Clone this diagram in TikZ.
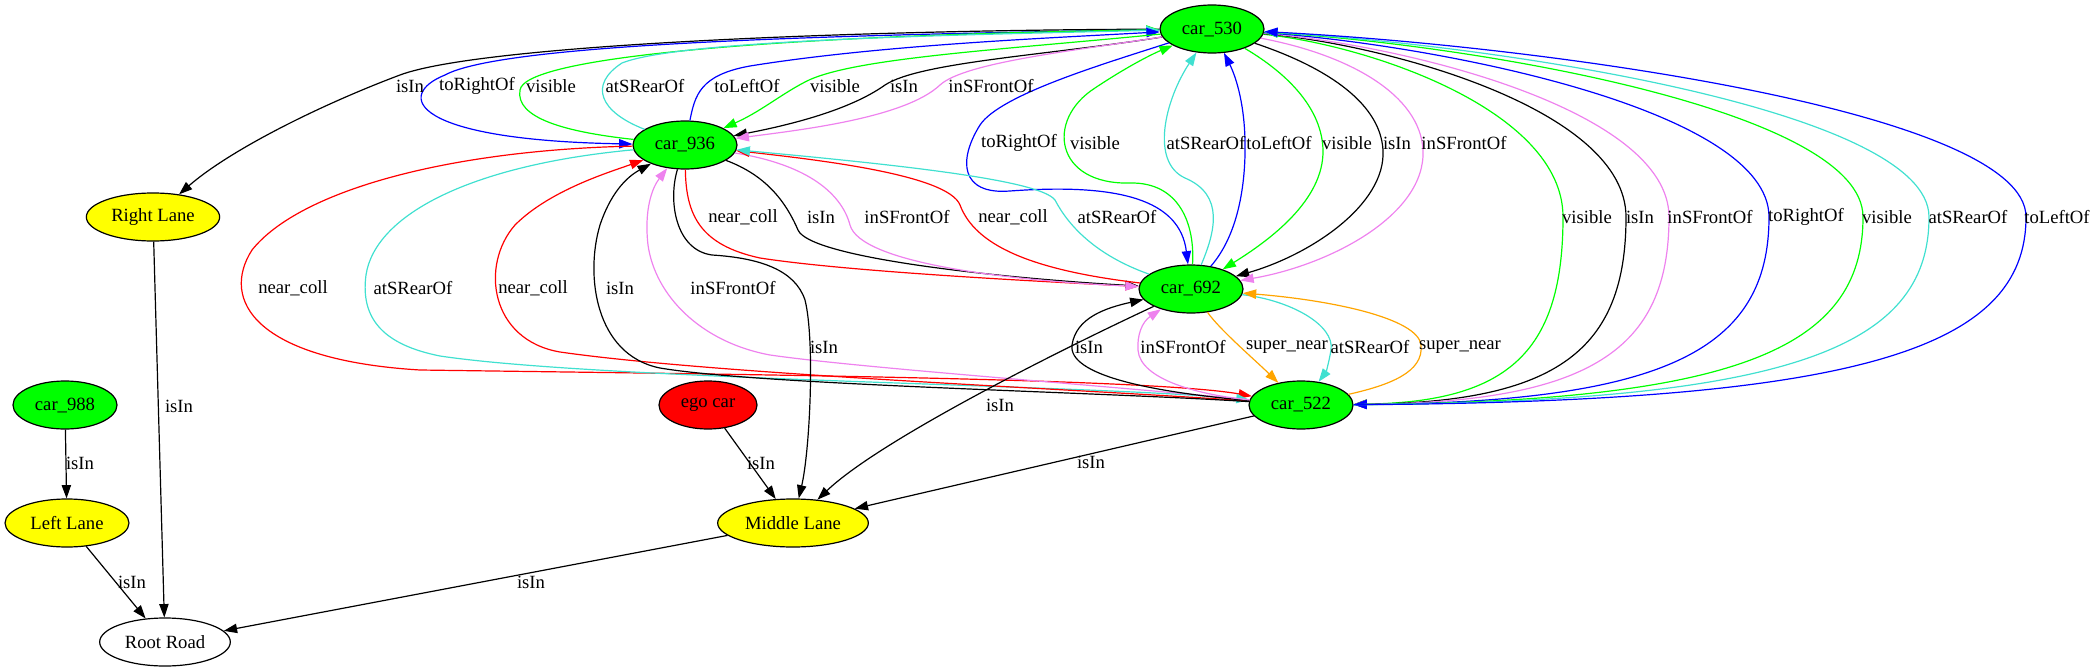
\documentclass[tikz,border=0pt]{standalone}
\usepackage{fontspec}
\setmainfont{Liberation Serif}
\usetikzlibrary{arrows.meta}
\usetikzlibrary{shapes.geometric}
\definecolor{gvgreen}{HTML}{00FF00}
\definecolor{gvblue}{HTML}{0000FF}
\definecolor{gvred}{HTML}{FF0000}
\definecolor{gvturq}{HTML}{40E0D0}
\definecolor{gvviolet}{HTML}{EE82EE}
\definecolor{gvorange}{HTML}{FFA500}
\definecolor{gvyellow}{HTML}{FFFF00}

\begin{document}
\begin{tikzpicture}[x=0.75pt,y=-0.75pt,->,>={Triangle[length=10pt,width=7pt]},line width=0.9pt,
    font=\fontsize{14}{17}\selectfont,
    car node/.style={ellipse,draw,fill=gvgreen,inner sep=0pt,minimum width=78pt,minimum height=36pt},
    lane node/.style={ellipse,draw,fill=gvyellow,inner sep=0pt,minimum height=36pt},
    rel label/.style={inner sep=0pt}]
  \useasboundingbox (0,0) rectangle (2095,667);
  % nodes
  \node[car node] (c530) at (1212,29) {car\_530};
  \node[car node] (c936) at (685,145) {car\_936};
  \node[car node] (c692) at (1191,289) {car\_692};
  \node[car node] (c522) at (1301,405) {car\_522};
  \node[car node] (c988) at (65,405) {car\_988};
  \node[ellipse,draw,fill=gvred,inner sep=0pt,minimum width=73.5pt,minimum height=36pt] (ego) at (708,405) {ego car};
  \node[lane node,minimum width=100pt] (rl) at (153,217) {Right Lane};
  \node[lane node,minimum width=93pt] (lft) at (67,523) {Left Lane};
  \node[lane node,minimum width=113pt] (ml) at (793,523) {Middle Lane};
  \node[ellipse,draw,inner sep=0pt,minimum width=98pt,minimum height=36pt] (rr) at (165,642) {Root Road};
  % car_530 and car_936
  \draw (c530) .. controls (850,30) and (480,45) .. (400,75) .. controls (320,105) and (230,150) .. (rl);
  \draw[gvblue] (c530) .. controls (800,35) and (500,45) .. (445,75) .. controls (395,95) and (410,140) .. (c936);
  \draw[gvgreen] (c936) .. controls (565,132) and (515,118) .. (520,90) .. controls (525,55) and (800,35) .. (c530);
  \draw[gvturq] (c936) .. controls (600,112) and (588,85) .. (622,63) .. controls (680,40) and (950,35) .. (c530);
  \draw[gvblue] (c936) .. controls (695,95) and (700,75) .. (750,66) .. controls (880,45) and (1050,38) .. (c530);
  \draw[gvgreen] (c530) .. controls (1000,50) and (850,58) .. (805,82) .. controls (780,95) and (760,112) .. (c936);
  \draw (c530) .. controls (1050,55) and (920,62) .. (885,85) .. controls (850,110) and (790,125) .. (c936);
  \draw[gvviolet] (c530) .. controls (1080,50) and (965,62) .. (940,85) .. controls (905,118) and (800,130) .. (c936);
  % car_530 and car_692
  \draw[gvblue] (c530) .. controls (1100,65) and (1000,95) .. (980,125) .. controls (958,160) and (960,195) .. (1010,191) .. controls (1120,183) and (1180,200) .. (c692);
  \draw[gvgreen] (c692) .. controls (1195,225) and (1180,182) .. (1130,183) .. controls (1055,185) and (1045,120) .. (1095,88) .. controls (1125,68) and (1150,55) .. (c530);
  \draw[gvturq] (c692) .. controls (1215,232) and (1225,195) .. (1185,178) .. controls (1150,162) and (1165,100) .. (c530);
  \draw[gvblue] (c692) .. controls (1238,235) and (1246,185) .. (1245,140) .. controls (1244,100) and (1235,75) .. (c530);
  \draw[gvgreen] (c530) .. controls (1290,75) and (1322,110) .. (1323,150) .. controls (1324,200) and (1270,240) .. (c692);
  \draw (c530) .. controls (1320,65) and (1380,100) .. (1383,150) .. controls (1386,205) and (1310,255) .. (c692);
  \draw[gvviolet] (c530) .. controls (1350,55) and (1420,95) .. (1423,150) .. controls (1426,215) and (1330,265) .. (c692);
  % car_530 and car_522
  \draw[gvgreen] (c530) .. controls (1368,45) and (1563,110) .. (1563,217) .. controls (1563,350) and (1510,402) .. (c522);
  \draw (c530) .. controls (1390,45) and (1626,110) .. (1626,217) .. controls (1626,350) and (1557,402) .. (c522);
  \draw[gvviolet] (c530) .. controls (1405,45) and (1669,110) .. (1669,217) .. controls (1669,350) and (1590,402) .. (c522);
  \draw[gvblue] (c530) .. controls (1440,45) and (1769,110) .. (1769,217) .. controls (1769,350) and (1665,402) .. (c522);
  \draw[gvgreen] (c522) .. controls (1735,402) and (1863,350) .. (1863,217) .. controls (1863,110) and (1473,45) .. (c530);
  \draw[gvturq] (c522) .. controls (1785,402) and (1929,350) .. (1929,217) .. controls (1929,110) and (1496,45) .. (c530);
  \draw[gvblue] (c522) .. controls (1857,402) and (2026,350) .. (2026,217) .. controls (2026,110) and (1530,45) .. (c530);
  % car_936 and car_692
  \draw[gvred] (c936) .. controls (686,215) and (700,245) .. (760,258) .. controls (850,272) and (1050,282) .. (c692);
  \draw (c936) .. controls (765,175) and (785,200) .. (798,230) .. controls (810,258) and (1000,278) .. (c692);
  \draw[gvviolet] (c936) .. controls (810,165) and (842,195) .. (850,225) .. controls (860,262) and (1000,280) .. (c692);
  \draw[gvred] (c692) .. controls (1030,270) and (975,245) .. (960,205) .. controls (948,175) and (820,160) .. (c936);
  \draw[gvturq] (c692) .. controls (1095,255) and (1068,225) .. (1055,200) .. controls (1040,180) and (900,165) .. (c936);
  % car_936 and car_522
  \draw[gvred] (c936) .. controls (450,150) and (300,190) .. (252,250) .. controls (220,300) and (255,360) .. (420,370) .. controls (700,374) and (1150,378) .. (c522);
  \draw[gvturq] (c936) .. controls (470,165) and (375,215) .. (366,275) .. controls (360,320) and (385,345) .. (440,356) .. controls (600,380) and (1100,385) .. (c522);
  \draw[gvred] (c522) .. controls (1100,390) and (720,375) .. (560,352) .. controls (490,340) and (480,265) .. (515,225) .. controls (550,190) and (610,172) .. (c936);
  \draw (c522) .. controls (1100,392) and (760,385) .. (660,368) .. controls (595,355) and (585,275) .. (600,225) .. controls (610,195) and (625,178) .. (c936);
  \draw[gvviolet] (c522) .. controls (1100,385) and (860,368) .. (770,355) .. controls (700,342) and (655,295) .. (648,245) .. controls (644,210) and (652,188) .. (c936);
  % car_692 and car_522
  \draw (c522) .. controls (1150,392) and (1068,375) .. (1072,345) .. controls (1076,318) and (1105,308) .. (c692);
  \draw[gvviolet] (c522) .. controls (1200,395) and (1140,380) .. (1138,350) .. controls (1137,335) and (1142,322) .. (c692);
  \draw[gvorange] (c692) .. controls (1220,330) and (1255,360) .. (c522);
  \draw[gvturq] (c692) .. controls (1290,300) and (1335,325) .. (1331,350) .. controls (1329,362) and (1326,372) .. (c522);
  \draw[gvorange] (c522) .. controls (1390,385) and (1424,372) .. (1421,345) .. controls (1418,318) and (1330,300) .. (c692);
  % lanes and road
  \draw (c936) .. controls (668,200) and (675,250) .. (712,255) .. controls (760,258) and (795,270) .. (805,300) .. controls (815,340) and (810,450) .. (ml);
  \draw (c692) .. controls (1060,350) and (880,440) .. (ml);
  \draw (c522) -- (ml);
  \draw (ego) -- (ml);
  \draw (rl) -- (rr);
  \draw (c988) -- (lft);
  \draw (lft) -- (rr);
  \draw (ml) -- (rr);
  % labels
  \node[rel label] (l1) at (410,86) {isIn};
  \node[rel label] (l2) at (477,86) {toRightOf};
  \node[rel label] (l3) at (551,86) {visible};
  \node[rel label] (l4) at (645,86) {atSRearOf};
  \node[rel label] (l5) at (747,86) {toLeftOf};
  \node[rel label] (l6) at (835,86) {visible};
  \node[rel label] (l7) at (904,86) {isIn};
  \node[rel label] (l8) at (991,86) {inSFrontOf};
  \node[rel label] (l9) at (1019,143) {toRightOf};
  \node[rel label] (l10) at (1095,143) {visible};
  \node[rel label] (l11) at (1206,143) {atSRearOf};
  \node[rel label] (l12) at (1279,143) {toLeftOf};
  \node[rel label] (l13) at (1347,143) {visible};
  \node[rel label] (l14) at (1397,143) {isIn};
  \node[rel label] (l15) at (1464,143) {inSFrontOf};
  \node[rel label] (l16) at (743,217) {near\_coll};
  \node[rel label] (l17) at (821,217) {isIn};
  \node[rel label] (l18) at (907,217) {inSFrontOf};
  \node[rel label] (l19) at (1013,217) {near\_coll};
  \node[rel label] (l20) at (1117,217) {atSRearOf};
  \node[rel label] (l21) at (1587,217) {visible};
  \node[rel label] (l22) at (1640,217) {isIn};
  \node[rel label] (l23) at (1710,217) {inSFrontOf};
  \node[rel label] (l24) at (1806,217) {toRightOf};
  \node[rel label] (l25) at (1887,217) {visible};
  \node[rel label] (l26) at (1968,217) {atSRearOf};
  \node[rel label] (l27) at (2057,217) {toLeftOf};
  \node[rel label] (l28) at (293,288) {near\_coll};
  \node[rel label] (l29) at (413,288) {atSRearOf};
  \node[rel label] (l30) at (533,288) {near\_coll};
  \node[rel label] (l31) at (620,288) {isIn};
  \node[rel label] (l32) at (733,288) {inSFrontOf};
  \node[rel label] (l33) at (824,347) {isIn};
  \node[rel label] (l34) at (1089,347) {isIn};
  \node[rel label] (l35) at (1183,347) {inSFrontOf};
  \node[rel label] (l36) at (1287,347) {super\_near};
  \node[rel label] (l37) at (1370,347) {atSRearOf};
  \node[rel label] (l38) at (1460,347) {super\_near};
  \node[rel label] (l39) at (179,406) {isIn};
  \node[rel label] (l40) at (1000,405) {isIn};
  \node[rel label] (l41) at (80,463) {isIn};
  \node[rel label] (l42) at (761,463) {isIn};
  \node[rel label] (l43) at (1091,462) {isIn};
  \node[rel label] (l44) at (132,582) {isIn};
  \node[rel label] (l45) at (531,582) {isIn};
\end{tikzpicture}
\end{document}
